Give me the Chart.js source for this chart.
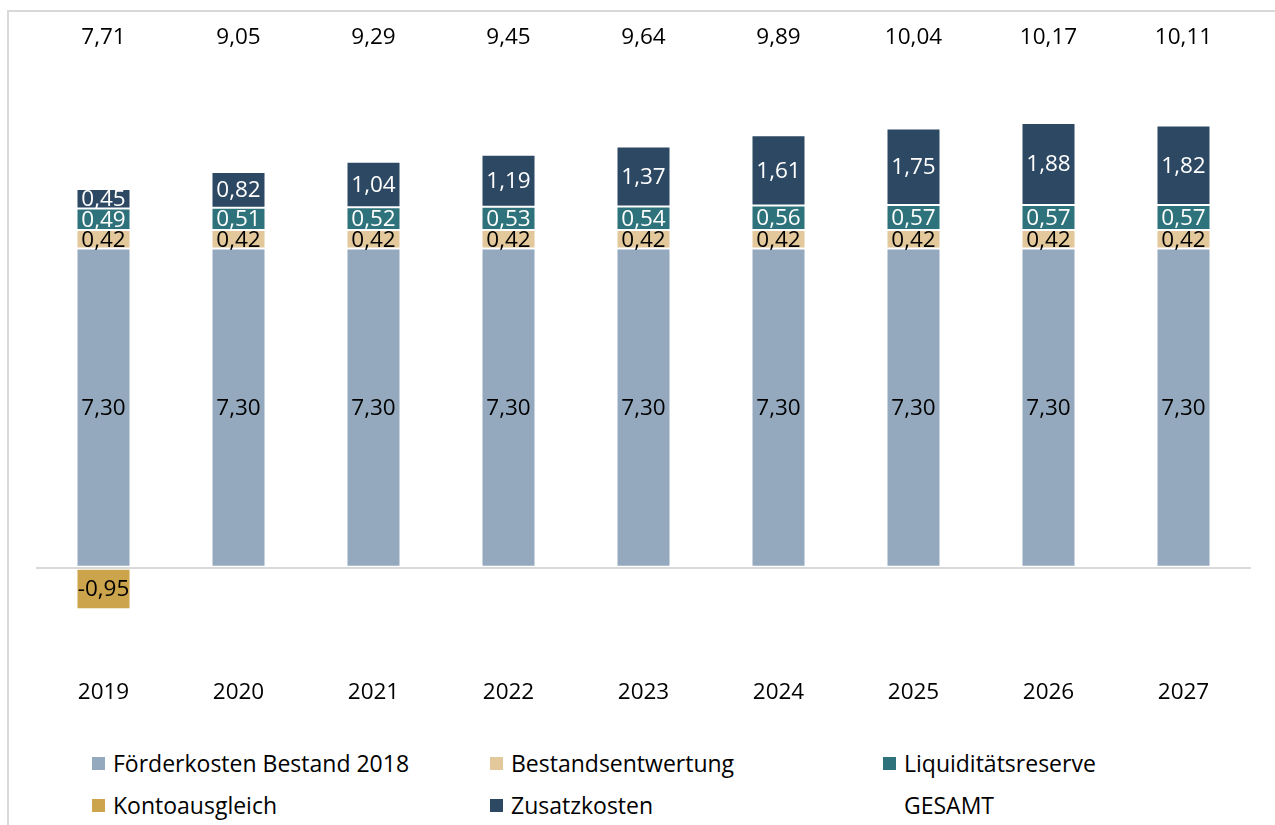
<!DOCTYPE html>
<html>
<head>
<meta charset="utf-8">
<script src="https://cdn.jsdelivr.net/npm/chart.js@4"></script>
<style>
  html, body { margin: 0; padding: 0; background: #fff; overflow: hidden; }
  #wrap { position: relative; width: 1275px; height: 825px; font-family: "Open Sans", sans-serif; }
  #frame { position: absolute; left: 7px; top: 10px; width: 1300px; height: 900px;
           border-top: 2px solid #d9d9d9; border-left: 2px solid #d9d9d9; }
  #chart { position: absolute; left: 0; top: 0; }
  .legend-item { position: absolute; display: flex; align-items: center; font-size: 23px; color: #000; white-space: nowrap; }
  .legend-item .box { width: 13px; height: 13px; margin-right: 8px; }
</style>
</head>
<body>
<div id="wrap">
  <div id="frame"></div>
  <canvas id="chart" width="1275" height="712"></canvas>
  <div id="legend"></div>
</div>
<script>
// Kosten je Jahr (Mrd. EUR)
var years = ['2019', '2020', '2021', '2022', '2023', '2024', '2025', '2026', '2027'];
var foerderkosten = [7.30, 7.30, 7.30, 7.30, 7.30, 7.30, 7.30, 7.30, 7.30];
var bestandsentwertung = [0.42, 0.42, 0.42, 0.42, 0.42, 0.42, 0.42, 0.42, 0.42];
var liquiditaet = [0.49, 0.51, 0.52, 0.53, 0.54, 0.56, 0.57, 0.57, 0.57];
var kontoausgleich = [-0.95, null, null, null, null, null, null, null, null];
var zusatzkosten = [0.45, 0.82, 1.04, 1.19, 1.37, 1.61, 1.75, 1.88, 1.82];
var gesamt = [7.71, 9.05, 9.29, 9.45, 9.64, 9.89, 10.04, 10.17, 10.11];

var fontFamily = '"Open Sans", sans-serif';

function fmt(v) {
    return v.toFixed(2).replace('.', ',');
}

function bar(label, data, color, textColor) {
    return {
        type: 'bar',
        label: label,
        data: data,
        backgroundColor: color,
        borderColor: 'rgba(255,255,255,0.35)',
        borderWidth: 1,
        borderSkipped: false,
        labelColor: textColor
    };
}

// Werte in die Balken schreiben, GESAMT oben drüber
var valueLabels = {
    id: 'valueLabels',
    afterDatasetsDraw: function (chart) {
        var ctx = chart.ctx;
        ctx.save();
        ctx.font = '22.5px ' + fontFamily;
        ctx.textAlign = 'center';
        ctx.textBaseline = 'middle';
        chart.data.datasets.forEach(function (ds, i) {
            var meta = chart.getDatasetMeta(i);
            meta.data.forEach(function (el, j) {
                var v = ds.data[j];
                if (v === null || v === undefined) return;
                if (ds.type === 'bar') {
                    ctx.fillStyle = ds.labelColor;
                    ctx.fillText(fmt(v), el.x, (el.y + el.base) / 2 + 1);
                } else {
                    ctx.fillStyle = '#000';
                    ctx.fillText(fmt(v), el.x, chart.chartArea.top + 17);
                }
            });
        });
        ctx.restore();
    }
};

var chart = new Chart(document.getElementById('chart'), {
    data: {
        labels: years,
        datasets: [
            bar('Förderkosten Bestand 2018', foerderkosten, '#94a9be', '#000'),
            bar('Bestandsentwertung', bestandsentwertung, '#e2c89b', '#000'),
            bar('Liquiditätsreserve', liquiditaet, '#2e737b', '#fff'),
            bar('Kontoausgleich', kontoausgleich, '#cba44c', '#000'),
            bar('Zusatzkosten', zusatzkosten, '#2d4863', '#fff'),
            {
                type: 'line',
                label: 'GESAMT',
                data: gesamt,
                showLine: false,
                pointRadius: 0,
                borderColor: 'transparent',
                backgroundColor: 'transparent'
            }
        ]
    },
    options: {
        responsive: false,
        animation: false,
        datasets: { bar: { barPercentage: 0.4, categoryPercentage: 1.0 } },
        layout: { padding: { top: 21, left: 36, right: 24, bottom: 4 } },
        plugins: { legend: { display: false }, tooltip: { enabled: false } },
        scales: {
            x: {
                stacked: true,
                grid: { display: false, drawTicks: false },
                border: { display: false },
                ticks: { color: '#000', font: { family: fontFamily, size: 22.5 }, padding: 2 }
            },
            y: {
                stacked: true,
                min: -2.5,
                max: 12.5,
                ticks: { display: false, stepSize: 2.5 },
                border: { display: false },
                grid: {
                    drawTicks: false,
                    lineWidth: 2,
                    color: function (c) { return c.tick && c.tick.value === 0 ? '#d9d9d9' : 'transparent'; }
                }
            }
        }
    },
    plugins: [valueLabels]
});

// Legende in drei Spalten wie im Original
var legendCols = [92, 490, 883];
var legendRows = [763, 805];
var legend = document.getElementById('legend');
chart.data.datasets.forEach(function (ds, i) {
    var item = document.createElement('div');
    item.className = 'legend-item';
    item.style.left = legendCols[i % 3] + 'px';
    item.style.top = (legendRows[Math.floor(i / 3)] - 15) + 'px';
    item.style.height = '30px';
    var box = document.createElement('span');
    box.className = 'box';
    box.style.background = ds.type === 'bar' ? ds.backgroundColor : 'transparent';
    var txt = document.createElement('span');
    txt.textContent = ds.label;
    item.appendChild(box);
    item.appendChild(txt);
    legend.appendChild(item);
});
</script>
</body>
</html>
